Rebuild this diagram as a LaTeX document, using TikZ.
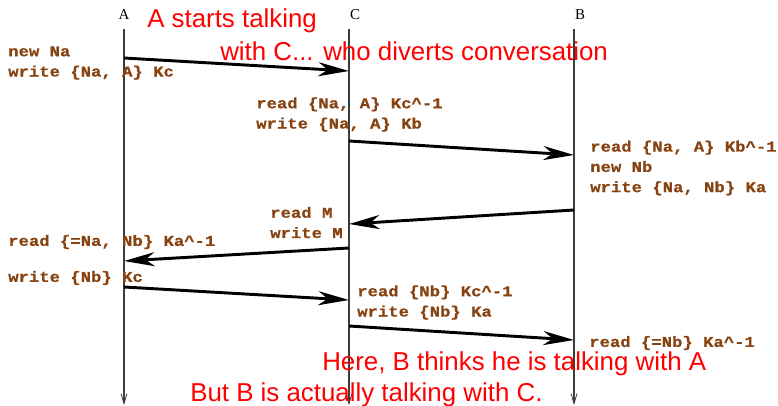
\documentclass[tikz,border=0pt]{standalone}
\usepackage{fontspec}
\usetikzlibrary{arrows.meta}
\newfontfamily\codefont{Liberation Mono}[FakeStretch=1.15,BoldFeatures={FakeBold=0.7}]
\newfontfamily\notefont{Liberation Sans}
\newfontfamily\labfont{Liberation Serif}
\definecolor{codebrown}{RGB}{135,68,18}
\definecolor{notered}{RGB}{255,0,0}
\definecolor{lifegray}{RGB}{60,60,60}
\tikzset{
  lifeline/.style={draw=lifegray, line width=0.8pt, -{Straight Barb[length=7.5pt,width=4.5pt,line width=0.6pt]}},
  msg/.style={draw=black, line width=2.2pt, -{Stealth[length=23pt,width=10.5pt,inset=7pt]}},
  code/.style={anchor=west, inner sep=0pt, text=codebrown, font=\codefont\bfseries\fontsize{11.25pt}{15.2pt}\selectfont, align=left},
  note/.style={anchor=base west, inner sep=0pt, text=notered, font=\notefont\fontsize{19.4pt}{23pt}\selectfont},
  lab/.style={inner sep=0pt, font=\labfont\fontsize{11.25pt}{13pt}\selectfont}
}
\begin{document}
\begin{tikzpicture}[x=0.75pt,y=-0.75pt]
\useasboundingbox (0,0) rectangle (778,406);
% lifeline labels
\node[lab] (lA) at (124,15) {A};
\node[lab] (lC) at (355,15) {C};
\node[lab] (lB) at (580,15) {B};
% lifelines
\coordinate (At) at (124,29); \coordinate (Ab) at (124,405);
\coordinate (Ct) at (349,29); \coordinate (Cb) at (349,405);
\coordinate (Bt) at (574,29); \coordinate (Bb) at (574,405);
\draw[lifeline] (At) -- (Ab);
\draw[lifeline] (Ct) -- (Cb);
\draw[lifeline] (Bt) -- (Bb);
% message endpoints
\coordinate (m1s) at (124,58);  \coordinate (m1e) at (349,71);
\coordinate (m2s) at (349,141); \coordinate (m2e) at (574,155);
\coordinate (m3s) at (574,210); \coordinate (m3e) at (349,224);
\coordinate (m4s) at (349,248); \coordinate (m4e) at (124,261);
\coordinate (m5s) at (124,287); \coordinate (m5e) at (349,300);
\coordinate (m6s) at (349,326); \coordinate (m6e) at (574,340);
\draw[msg] (m1s) -- (m1e);
\draw[msg] (m2s) -- (m2e);
\draw[msg] (m3s) -- (m3e);
\draw[msg] (m4s) -- (m4e);
\draw[msg] (m5s) -- (m5e);
\draw[msg] (m6s) -- (m6e);
% code texts
\node[code] (t1) at (8,63) {new Na\\write \{Na, A\} Kc};
\node[code] (t2) at (256,114.5) {read \{Na, A\} Kc\^{}-1\\write \{Na, A\} Kb};
\node[code] (t3) at (590,168) {read \{Na, A\} Kb\^{}-1\\new Nb\\write \{Na, Nb\} Ka};
\node[code] (t4) at (270,222.5) {read M\\write M};
\node[code] (t5) at (8,242) {read \{=Na, Nb\} Ka\^{}-1};
\node[code] (t6) at (8,278) {write \{Nb\} Kc};
\node[code] (t7) at (357,302.5) {read \{Nb\} Kc\^{}-1\\write \{Nb\} Ka};
\node[code] (t8) at (589,343) {read \{=Nb\} Ka\^{}-1};
% red notes
\node[note] (n1) at (147,28) {A starts talking};
\node[note] (n2) at (220,61) {with C... who diverts conversation};
\node[note] (n3) at (322,370) {Here, B thinks he is talking with A};
\node[note] (n4) at (190,401) {But B is actually talking with C.};
\end{tikzpicture}
\end{document}
